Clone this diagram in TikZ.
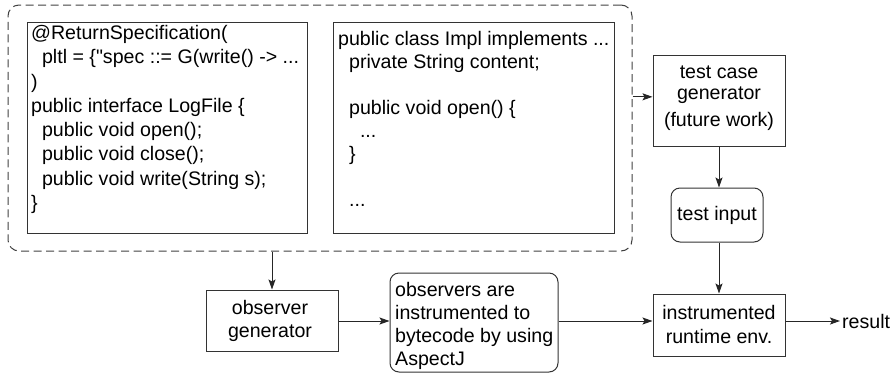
\documentclass[tikz,border=0pt]{standalone}
\usepackage{fontspec}
\setmainfont{Liberation Sans}[Ligatures=TeXOff]
\usetikzlibrary{arrows.meta,calc}
\newcommand\codeindent{\hspace*{10.9pt}}
\begin{document}
\begin{tikzpicture}[x=1pt,y=-1pt,
  font=\fontsize{19.6}{23}\selectfont,
  box/.style={draw=black!80, line width=1pt, inner sep=0pt},
  roundbox/.style={box, rounded corners=9pt},
  group/.style={draw=black!75, line width=1pt, dash pattern=on 8pt off 4.5pt, rounded corners=11pt, inner sep=0pt},
  txt/.style={inner sep=0pt, align=center},
  code/.style={inner sep=0pt, align=left, anchor=north west},
  arr/.style={draw=black!85, line width=1pt, -{Stealth[length=10pt,width=7pt,inset=2pt]}}
]
\useasboundingbox (0,0) rectangle (892,373);

% dashed group around the specification and the implementation
\node[group, minimum width=624, minimum height=246] (spec) at (320,128) {};

% annotated interface
\node[box, minimum width=280, minimum height=211] (iface) at (167,127.5) {};
\node[code, font=\fontsize{19.6}{24.3}\selectfont] (ifacetxt) at (31,25) {%
@ReturnSpecification(\\
\codeindent pltl = \{"spec ::= G(write() -> ...\\
)\\
public interface LogFile \{\\
\codeindent public void open();\\
\codeindent public void close();\\
\codeindent public void write(String s);\\
\}};

% implementation class
\node[box, minimum width=281, minimum height=211] (impl) at (473.5,127.5) {};
\node[code] (impltxt) at (338,31) {%
public class Impl implements ...\\
\codeindent private String content;\\
\mbox{}\\
\codeindent public void open() \{\\
\codeindent\codeindent ...\\
\codeindent \}\\
\mbox{}\\
\codeindent ...};

% test case generator
\node[box, minimum width=132, minimum height=91] (tcg) at (719,100.5) {};
\node[txt, anchor=base] (tcgtxt1) at (719,78) {test case};
\node[txt, anchor=base] (tcgtxt2) at (719,99) {generator};
\node[txt, anchor=base] (tcgtxt3) at (719,126) {(future work)};

% test input
\node[roundbox, minimum width=92, minimum height=54] (tin) at (717,215) {};
\node[txt, anchor=base] (tintxt) at (717,220) {test input};

% observer generator
\node[box, minimum width=132, minimum height=61] (og) at (272,320.5) {};
\node[txt, anchor=base] (ogtxt1) at (270,314) {observer};
\node[txt, anchor=base] (ogtxt2) at (270,337) {generator};

% AspectJ instrumentation
\node[roundbox, minimum width=168, minimum height=99] (obs) at (474,322.5) {};
\node[code, anchor=base west] (obstxt1) at (395,296) {observers are};
\node[code, anchor=base west] (obstxt2) at (395,319) {instrumented to};
\node[code, anchor=base west] (obstxt3) at (395,342) {bytecode by using};
\node[code, anchor=base west] (obstxt4) at (395,365) {AspectJ};

% instrumented runtime environment
\node[box, minimum width=132, minimum height=62] (rt) at (719,325) {};
\node[txt, anchor=base] (rttxt1) at (719,319) {instrumented};
\node[txt, anchor=base] (rttxt2) at (719,343) {runtime env.};

% output
\node[inner sep=2pt, anchor=west] (res) at (840,321) {result};

% connectors
\coordinate (gen) at ($(tcg.north west)!0.46!(tcg.south west)$);
\draw[arr] (spec.east |- gen) -- (gen);
\draw[arr] (tcg.south) -- (tcg.south |- tin.north);
\draw[arr] (tcg.south |- tin.south) -- (tcg.south |- rt.north);
\draw[arr] (spec.south -| og.north) -- (og.north);
\coordinate (flow) at ($(og.east)+(0,0.5)$);
\draw[arr] (flow) -- (flow -| obs.west);
\draw[arr] (flow -| obs.east) -- (flow -| rt.west);
\draw[arr] (flow -| rt.east) -- (flow -| res.west);
\end{tikzpicture}
\end{document}
